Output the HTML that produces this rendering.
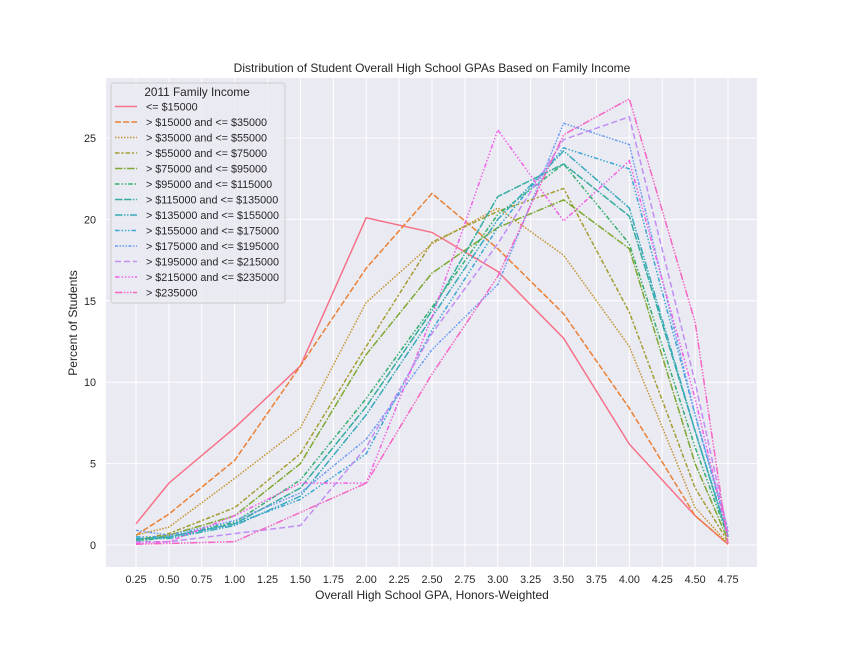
<!DOCTYPE html>
<html><head><meta charset="utf-8">
<style>
body{margin:0;background:#fff;}
svg{display:block;font-family:"Liberation Sans","DejaVu Sans",sans-serif;}
</style></head>
<body>
<svg id="chart" width="842" height="648" viewBox="0 0 842 648" xmlns="http://www.w3.org/2000/svg">
<rect x="0" y="0" width="842" height="648" fill="#ffffff"/>
<rect x="106" y="78" width="651" height="489" fill="#eaeaf2"/>
<g id="grid"></g>
<g id="series"></g>
<g id="ticks"></g>
<text x="432" y="72" text-anchor="middle" font-size="12" fill="#262626">Distribution of Student Overall High School GPAs Based on Family Income</text>
<text x="432" y="599" text-anchor="middle" font-size="12" fill="#262626">Overall High School GPA, Honors-Weighted</text>
<text transform="translate(77,323) rotate(-90)" text-anchor="middle" font-size="12" fill="#262626">Percent of Students</text>
<g id="legend"></g>
</svg>
<script>
const xPoints=[0.25,0.5,1.0,1.5,2.0,2.5,3.0,3.5,4.0,4.5,4.75];
const xTicks=[0.25,0.5,0.75,1.0,1.25,1.5,1.75,2.0,2.25,2.5,2.75,3.0,3.25,3.5,3.75,4.0,4.25,4.5,4.75];
const yTicks=[0,5,10,15,20,25];
const seriesNames=["<= $15000","> $15000 and <= $35000","> $35000 and <= $55000","> $55000 and <= $75000","> $75000 and <= $95000","> $95000 and <= $115000","> $115000 and <= $135000","> $135000 and <= $155000","> $155000 and <= $175000","> $175000 and <= $195000","> $195000 and <= $215000","> $215000 and <= $235000","> $235000"];
const s0=[1.3,3.8,7.2,11.0,20.1,19.2,16.8,12.7,6.2,1.8,0.05];
const s1=[0.6,1.9,5.2,11.0,17.0,21.6,18.2,14.2,8.4,1.8,0.05];
const s2=[0.6,1.1,4.1,7.2,14.9,18.5,20.7,17.8,12.2,2.3,0.1];
const s3=[0.3,0.7,2.3,5.6,12.2,18.6,20.5,21.9,14.3,3.5,0.2];
const s4=[0.3,0.6,1.8,5.0,11.7,16.7,19.5,21.2,18.2,5.0,0.3];
const s5=[0.2,0.5,1.4,4.0,9.0,14.6,20.3,23.4,18.5,6.0,0.5];
const s6=[0.3,0.5,1.3,3.5,8.5,14.4,21.4,23.4,20.2,7.0,0.5];
const s7=[0.4,0.4,1.2,3.0,8.0,14.0,20.0,24.2,20.7,7.0,0.6];
const s8=[0.5,0.5,1.3,2.8,5.6,13.2,19.5,24.4,23.1,8.0,0.8];
const s9=[0.9,0.6,1.5,3.2,6.5,12.0,16.0,25.9,24.6,8.0,1.0];
const s10=[0.2,0.2,0.7,1.2,6.0,13.0,18.5,24.9,26.3,10.0,0.8];
const s11=[0.1,0.2,1.8,3.8,3.8,14.0,25.5,19.9,23.6,9.0,0.5];
const s12=[0.05,0.1,0.2,2.0,3.8,10.5,16.5,25.2,27.4,13.7,0.1];
const allSeries=[s0,s1,s2,s3,s4,s5,s6,s7,s8,s9,s10,s11,s12];
const colors=["#f77189","#ea8035","#c59432","#a39d32","#7fa832","#35ae6e","#36ada0","#38aabb","#3ba6d4","#6e9bf4","#c08ef4","#f061e6","#f565c4"];
const dashes=["","6,2.2","1.5,1.5","4.5,1.9,2.2,1.9","7.5,1.5,1.5,1.5","4.5,1.9,1.5,1.9,1.5,1.9","7.5,1.5,7.5,1.5,1.5,1.5","7.5,1.5,1.5,1.5,1.5,1.5","4.5,1.9,1.5,1.9,1.5,1.9,1.5,1.9","3,1.5,1.5,1.5,1.5,1.5,1.5,1.5","6,3","4.5,1.9,1.5,1.9,1.5,1.9,1.5,1.9,1.5,1.9","7.5,1.5,1.5,1.5,1.5,1.5,1.5,1.5"];
const NS="http://www.w3.org/2000/svg";
function xs(v){return 136+(v-0.25)*(592/4.5);}
function ys(v){return 545-v*16.28;}
function mk(t,a,p){const e=document.createElementNS(NS,t);for(const k in a)e.setAttribute(k,a[k]);p.appendChild(e);return e;}
const grid=document.getElementById('grid'),ticks=document.getElementById('ticks'),ser=document.getElementById('series'),leg=document.getElementById('legend');
xTicks.forEach(t=>{
 const l=mk('line',{x1:xs(t),x2:xs(t),y1:78,y2:567,stroke:'#fff','stroke-width':1},grid);
 
 
 const tx=mk('text',{x:xs(t),y:583,'text-anchor':'middle','font-size':10.8,fill:'#262626'},ticks);
 tx.textContent=t.toFixed(2);
 
 
});
yTicks.forEach(t=>{
 const l=mk('line',{x1:106,x2:757,y1:ys(t),y2:ys(t),stroke:'#fff','stroke-width':1},grid);
 
 
 const tx=mk('text',{x:96,y:ys(t)+4,'text-anchor':'end','font-size':10.8,fill:'#262626'},ticks);
 tx.textContent=t;
 
 
});
allSeries.forEach((s,i)=>{
 const pts=s.map((v,j)=>xs(xPoints[j]).toFixed(1)+','+ys(v).toFixed(1)).join(' ');
 const p=mk('polyline',{points:pts,fill:'none',stroke:colors[i],'stroke-width':1.5,'stroke-dasharray':dashes[i]},ser);
 
 
});
mk('rect',{x:111,y:83,width:174,height:220,rx:3,fill:'#eaeaf2','fill-opacity':0.8,stroke:'#cccccc','stroke-width':1},leg);
const lt=mk('text',{x:197,y:96,'text-anchor':'middle','font-size':11.8,fill:'#262626'},leg);
lt.textContent='2011 Family Income';


seriesNames.forEach((n,i)=>{
 const y=106.5+i*15.5;
 const l=mk('line',{x1:115,x2:137,y1:y,y2:y,stroke:colors[i],'stroke-width':1.5,'stroke-dasharray':dashes[i]},leg);
 
 
 const t=mk('text',{x:146,y:y+4,'font-size':10.8,fill:'#262626'},leg);
 t.textContent=n;
 
 
});
</script>
</body></html>
